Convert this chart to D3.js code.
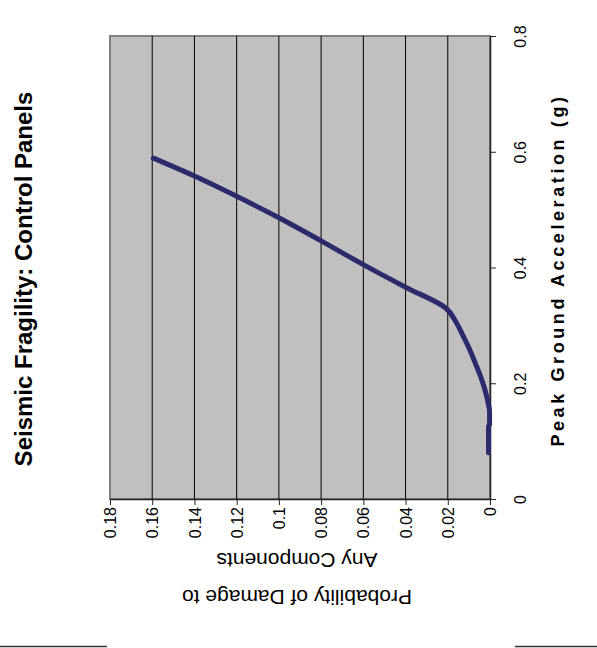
<!DOCTYPE html>
<html>
<head>
<meta charset="utf-8">
<script src="https://cdn.jsdelivr.net/npm/d3@7"></script>
<style>
  body { margin: 0; background: #fff; }
  text { font-family: Arial, "Liberation Sans", sans-serif; fill: #000; }
</style>
</head>
<body>
<div id="chart"></div>
<script>
// page size (should match the window)
var w = 597;
var h = 648;

// chart values
var pgaValues  = [0.08, 0.10, 0.125, 0.13, 0.15, 0.171, 0.19, 0.214, 0.235, 0.257, 0.28, 0.305, 0.33, 0.366, 0.405, 0.446, 0.486, 0.523, 0.558, 0.589];
var probValues = [0.0007, 0.0007, 0.0007, 0.0002, 0.0002, 0.0012, 0.0025, 0.0047, 0.007, 0.0095, 0.0125, 0.016, 0.021, 0.04, 0.06, 0.08, 0.10, 0.12, 0.14, 0.1595];
var probTicks  = [0, 0.02, 0.04, 0.06, 0.08, 0.1, 0.12, 0.14, 0.16, 0.18];
var pgaTicks   = [0, 0.2, 0.4, 0.6, 0.8];

var titleText = "Seismic Fragility:  Control Panels";
var xTitle = "Peak Ground Acceleration (g)";
var yTitle = ["Probability of Damage to", "Any Components"];

// the whole chart is turned on its side: probability runs right to left,
// acceleration runs bottom to top
var plot = { left: 110, right: 490, top: 36, bottom: 499 };

var svg = d3.select('#chart').append('svg')
      .attr('width', w)
      .attr('height', h);

var prob = d3.scaleLinear()
      .domain([0, 0.18])
      .range([plot.right, plot.left]);

var pga = d3.scaleLinear()
      .domain([0, 0.8])
      .range([plot.bottom, plot.top]);

// plot area
svg.append('rect')
    .attr('x', plot.left)
    .attr('y', plot.top)
    .attr('width', plot.right - plot.left)
    .attr('height', plot.bottom - plot.top)
    .attr('fill', '#c0c0c0')
    .attr('stroke', '#808080')
    .attr('stroke-width', 2);

// gridlines
svg.append('g')
    .selectAll('line')
    .data(probTicks.filter(function(d) { return d > 0 && d < 0.18; }))
  .enter().append('line')
    .attr('x1', function(d) { return prob(d); })
    .attr('x2', function(d) { return prob(d); })
    .attr('y1', plot.top)
    .attr('y2', plot.bottom)
    .attr('stroke', '#000')
    .attr('stroke-width', 1);

// probability axis (bottom)
var probAxis = svg.append('g')
    .attr('transform', 'translate(0,' + plot.bottom + ')')
    .call(d3.axisBottom(prob)
      .tickValues(probTicks)
      .tickSize(6)
      .tickSizeOuter(0)
      .tickFormat(function(d) { return +d.toFixed(2); }));

probAxis.select('.domain').attr('stroke', '#222').attr('stroke-width', 1.5);
probAxis.selectAll('.tick line').attr('stroke', '#222');
probAxis.selectAll('.tick text')
    .attr('transform', 'rotate(-90)')
    .attr('x', -8)
    .attr('y', 0)
    .attr('dy', '0.35em')
    .attr('text-anchor', 'end')
    .style('font-size', '16px');

// acceleration axis (right)
var pgaAxis = svg.append('g')
    .attr('transform', 'translate(' + plot.right + ',0)')
    .call(d3.axisRight(pga)
      .tickValues(pgaTicks)
      .tickSize(6)
      .tickSizeOuter(0)
      .tickFormat(function(d) { return +d.toFixed(1); }));

pgaAxis.select('.domain').attr('stroke', '#222').attr('stroke-width', 1.5);
pgaAxis.selectAll('.tick line').attr('stroke', '#222');
pgaAxis.selectAll('.tick text')
    .attr('transform', 'translate(30,0) rotate(-90)')
    .attr('x', 0)
    .attr('y', 0)
    .attr('dy', '0.35em')
    .attr('text-anchor', 'middle')
    .style('font-size', '16px');

svg.selectAll('.domain').attr('fill', 'none');

// fragility curve
var points = pgaValues.map(function(d, i) { return [d, probValues[i]]; });

var line = d3.line()
    .x(function(d) { return prob(d[1]); })
    .y(function(d) { return pga(d[0]); })
    .curve(d3.curveMonotoneY);

svg.append('path')
    .datum(points)
    .attr('d', line)
    .attr('fill', 'none')
    .attr('stroke', '#2b2b6b')
    .attr('stroke-width', 5)
    .attr('stroke-linecap', 'round')
    .attr('stroke-linejoin', 'round');

// titles
svg.append('text')
    .attr('transform', 'translate(32,279) rotate(-90)')
    .attr('text-anchor', 'middle')
    .style('font-size', '24px')
    .style('font-weight', 'bold')
    .text(titleText);

svg.append('text')
    .attr('transform', 'translate(564,270) rotate(-90)')
    .attr('text-anchor', 'middle')
    .style('font-size', '18px')
    .style('font-weight', 'bold')
    .style('letter-spacing', '3.6px')
    .text(xTitle);

// probability title is upside down
var yt = svg.append('text')
    .attr('transform', 'translate(297,590) rotate(180)')
    .attr('text-anchor', 'middle')
    .style('font-size', '21px');

yt.selectAll('tspan')
    .data(yTitle)
  .enter().append('tspan')
    .attr('x', 0)
    .attr('y', function(d, i) { return i * 37; })
    .text(function(d) { return d; });

// page rules at the bottom
svg.append('line')
    .attr('x1', 0).attr('x2', 107)
    .attr('y1', 646.5).attr('y2', 646.5)
    .attr('stroke', '#333').attr('stroke-width', 1.5);
svg.append('line')
    .attr('x1', 515).attr('x2', w)
    .attr('y1', 646.5).attr('y2', 646.5)
    .attr('stroke', '#333').attr('stroke-width', 1.5);
</script>
</body>
</html>
